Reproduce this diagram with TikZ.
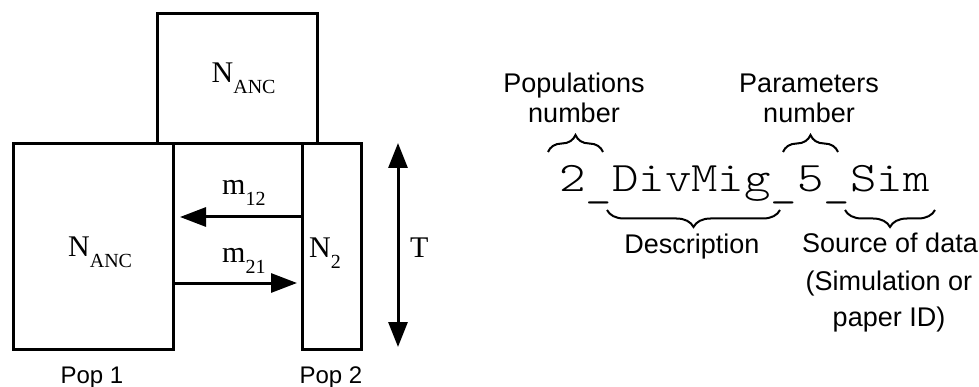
\documentclass[tikz,border=0pt]{standalone}
\usepackage{fontspec}
\usepackage{graphicx}
\setmainfont{Liberation Serif}
\newfontfamily\arialf{Liberation Sans}
\newfontfamily\courf{lmmonolt10-regular}[Extension=.otf]
\usetikzlibrary{arrows.meta,decorations.pathreplacing}
\newcommand{\symsub}[2]{{\fontsize{30}{30}\selectfont #1}\raisebox{-11pt}{\fontsize{20}{20}\selectfont #2}}
\newcommand{\lowus}{\raisebox{-5pt}{\_}}
\tikzset{
  popbox/.style={draw, line width=3pt, inner sep=0pt, outer sep=0pt},
  mig/.style={line width=3pt, -{Triangle[length=26pt,width=19pt]}},
  sym/.style={inner sep=0pt, anchor=base west},
  lab/.style={inner sep=0pt, anchor=base, font=\arialf\fontsize{27}{30}\selectfont},
  poplab/.style={inner sep=0pt, anchor=base, font=\arialf\fontsize{24}{28}\selectfont},
  brc/.style={line width=2pt, decorate, decoration={brace, amplitude=17pt}}
}
\begin{document}
\begin{tikzpicture}[x=1pt,y=-1pt]
\useasboundingbox (0,0) rectangle (979,387);
% boxes
\node[popbox, minimum width=160pt, minimum height=130.4pt] (anc) at (237,78.5) {};
\node[popbox, minimum width=160pt, minimum height=205.3pt] (pop1) at (93,246.35) {};
\node[popbox, minimum width=59pt, minimum height=205.3pt] (pop2) at (331.5,246.35) {};
% labels in boxes
\node[sym] (ancl) at (211.5,83) {\symsub{N}{ANC}};
\node[sym] (pop1l) at (68,257) {\symsub{N}{ANC}};
\node[sym] (pop2l) at (309,258) {\symsub{N}{2}};
\node[sym] (m12l) at (222,195) {\symsub{m}{12}};
\node[sym] (m21l) at (222,262) {\symsub{m}{21}};
\node[sym] (tl) at (410,258) {\fontsize{30}{30}\selectfont T};
% migration arrows
\coordinate (m12s) at (302,217);
\coordinate (m12e) at (180,217);
\coordinate (m21s) at (175,283);
\coordinate (m21e) at (297,283);
\draw[mig] (m12s) -- (m12e);
\draw[mig] (m21s) -- (m21e);
% time arrow
\coordinate (ttop) at (398,143);
\coordinate (tbot) at (398,347);
\draw[line width=3pt, {Triangle[length=25pt,width=19pt]}-{Triangle[length=25pt,width=19pt]}] (ttop) -- (tbot);
% pop labels
\node[poplab] (p1) at (92,383) {Pop 1};
\node[poplab] (p2) at (331,383) {Pop 2};
% name string
\node[inner sep=0pt, anchor=base west] (name) at (559,192) {\scalebox{1.2}[1]{\courf\fontsize{42}{42}\selectfont 2\lowus DivMig\lowus 5\lowus Sim}};
% braces
\coordinate (b1a) at (548,152); \coordinate (b1b) at (603,152);
\coordinate (b2a) at (783,152); \coordinate (b2b) at (838,152);
\coordinate (b3a) at (780,210); \coordinate (b3b) at (607,210);
\coordinate (b4a) at (935,210); \coordinate (b4b) at (845,210);
\draw[brc] (b1a) -- (b1b);
\draw[brc] (b2a) -- (b2b);
\draw[brc] (b3a) -- (b3b);
\draw[brc] (b4a) -- (b4b);
% descriptions
\node[lab] (pn1) at (574,93) {Populations};
\node[lab] (pn2) at (574,123) {number};
\node[lab] (pa1) at (809,93) {Parameters};
\node[lab] (pa2) at (809,123) {number};
\node[lab] (desc) at (692,254) {Description};
\node[lab] (src1) at (890,253) {Source of data};
\node[lab] (src2) at (889,290) {(Simulation or};
\node[lab] (src3) at (889,326) {paper ID)};
\end{tikzpicture}
\end{document}
